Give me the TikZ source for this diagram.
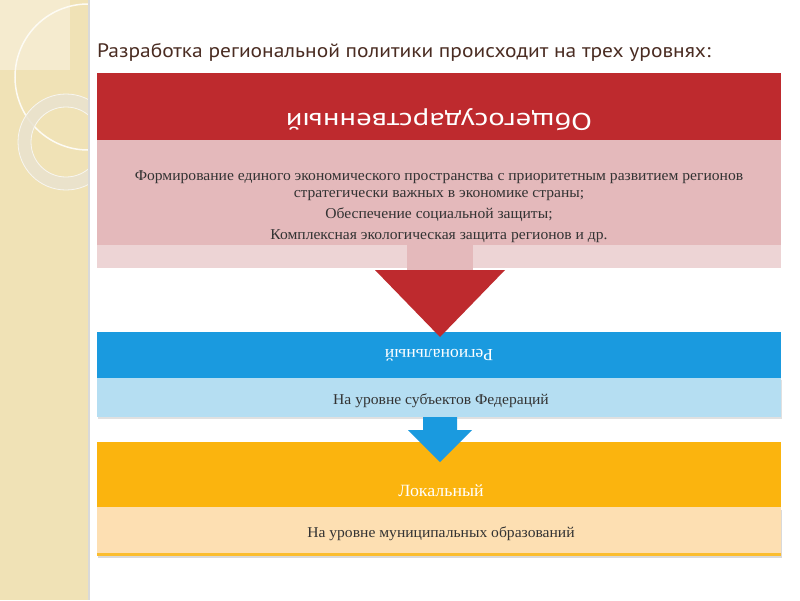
\documentclass[tikz,border=0pt]{standalone}
\usepackage{fontspec}
\setmainfont[FakeStretch=1.04]{Liberation Serif}
\newfontfamily\titlefont[FakeStretch=1.1]{PT Sans}
\newfontfamily\headfont[FakeStretch=1.28]{PT Sans}
\definecolor{barc}{HTML}{F0E2B6}
\definecolor{barlight}{HTML}{F5EBCF}
\definecolor{ringc}{HTML}{E9E2CF}
\definecolor{titlec}{HTML}{4A2C22}
\definecolor{redh}{HTML}{BE2A2E}
\definecolor{pinkb}{HTML}{E4B9BB}
\definecolor{pinkl}{HTML}{EDD4D5}
\definecolor{blueh}{HTML}{1A9ADF}
\definecolor{bluel}{HTML}{B5DEF2}
\definecolor{orah}{HTML}{FBB40E}
\definecolor{oral}{HTML}{FDDFB2}
\definecolor{textc}{HTML}{333333}
\tikzset{
  band/.style={anchor=north west, inner sep=0pt, minimum width=684pt, draw=none},
  bodytext/.style={text=textc, font=\fontsize{15}{17}\selectfont, inner sep=0pt},
  headtext/.style={text=white, inner sep=0pt},
}
\begin{document}
\begin{tikzpicture}[x=1pt,y=-1pt]
\useasboundingbox (0,0) rectangle (800,600);
\fill[white] (0,0) rectangle (800,600);
% left decorative bar
\fill[barc] (0,0) rectangle (88,600);
\fill[barlight] (0,0) rectangle (70,70);
\begin{scope}
\clip (0,0) rectangle (88,600);
\draw[white!85!barc, line width=1.5pt] (88,77) circle[radius=73];
\fill[ringc, opacity=0.85, even odd rule] (66,142) circle[radius=48] (66,142) circle[radius=35];
\draw[white!70!ringc, line width=0.8pt] (66,142) circle[radius=48] (66,142) circle[radius=35];
\end{scope}
\fill[black!15] (88,0) rectangle (90,600);
% title
\node[anchor=base west, text=titlec, inner sep=0pt, font=\titlefont\fontsize{19.5}{22}\selectfont] (title) at (97,57) {Разработка региональной политики происходит на трех уровнях:};
% level 1
\node[band, fill=pinkl, minimum height=23pt] (s1) at (97,245) {};
\node[band, fill=redh, minimum height=67pt] (h1) at (97,73) {};
\node[band, fill=pinkb, minimum height=105pt] (b1) at (97,140) {};
\node[headtext, rotate=180, font=\headfont\fontsize{24}{26}\selectfont] (t1) at (439,119.5) {Общегосударственный};
\node[bodytext, align=center] (l1) at (439,186) {Формирование единого экономического пространства с приоритетным развитием регионов\\стратегически важных в экономике страны;};
\node[bodytext] (l2) at (439,215) {Обеспечение социальной защиты;};
\node[bodytext] (l3) at (439,236) {Комплексная экологическая защита регионов и др.};
% level 2
\fill[black!12] (98,380) rectangle (782,419);
\node[band, fill=blueh, minimum height=46pt] (h2) at (97,332) {};
\node[band, fill=bluel, minimum height=39pt] (b2) at (97,378) {};
\node[headtext, rotate=180, font=\fontsize{17}{19}\selectfont] (t2) at (439,355.5) {Региональный};
\node[bodytext] (l4) at (441,401) {На уровне субъектов Федераций};
% level 3
\fill[black!15] (98,510) rectangle (782,558);
\node[band, fill=orah, minimum height=65pt] (h3) at (97,442) {};
\node[band, fill=oral, minimum height=46pt] (b3) at (97,507) {};
\fill[orah!80!oral] (97,553) rectangle (781,556);
\node[headtext, font=\fontsize{17.2}{19}\selectfont] (t3) at (441,491) {Локальный};
\node[bodytext] (l5) at (441,533.5) {На уровне муниципальных образований};
% red arrow
\fill[pinkb] (407,245) rectangle (473,271);
\fill[redh] (375,270) -- (505,270) -- (440,337) -- cycle;
% blue arrow
\fill[blueh] (423,417) -- (457,417) -- (457,430) -- (472,430) -- (440,462) -- (408,430) -- (423,430) -- cycle;
\end{tikzpicture}
\end{document}
